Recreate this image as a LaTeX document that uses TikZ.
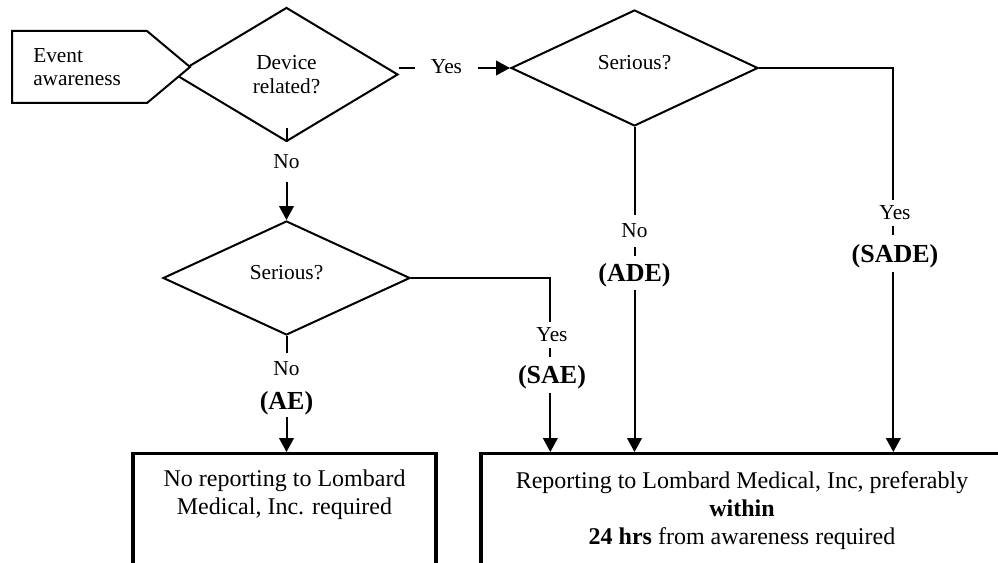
\documentclass[tikz,border=0pt]{standalone}
\usepackage{fontspec}
\setmainfont{Liberation Serif}
\usetikzlibrary{shapes.geometric,arrows.meta,calc}
\newcommand\labfont{\fontsize{16pt}{17.5pt}\selectfont}
\newcommand\boldlabfont{\fontsize{19.5pt}{21pt}\selectfont\bfseries}
\newcommand\boxfont{\fontsize{18pt}{20.8pt}\selectfont}
\tikzset{
  conn/.style={line width=1.5pt, -{Triangle[length=10.5pt,width=11pt]}},
  plain/.style={line width=1.5pt},
  decision/.style={diamond, draw, line width=1.5pt, fill=white, inner sep=0pt, font=\labfont, align=center},
  lab/.style={fill=white, inner sep=1pt, font=\labfont},
  blab/.style={fill=white, inner sep=1pt, font=\boldlabfont, text height=13.5pt, text depth=0.6pt},
  outbox/.style={draw, line width=2.5pt, anchor=north, fill=white},
  boxtext/.style={font=\boxfont, align=center, inner sep=0pt, anchor=north},
}
\begin{document}
\begin{tikzpicture}[x=0.75pt,y=-0.75pt]
\useasboundingbox (0,0) rectangle (998,563);
\fill[white] (0,0) rectangle (998,563);
\clip (0,0) rectangle (998,563);

% decisions
\node[decision, minimum width=167.25pt, minimum height=100.5pt] (d1) at (286.5,74.5) {Device\\related?};
\draw[plain, fill=white] (12,31) -- (147,31) -- (190,67) -- (147,103) -- (12,103) -- cycle;
\node[font=\labfont, align=left, anchor=west, inner sep=0pt] (ev) at (33,67) {Event\\awareness};

\node[decision, minimum width=185.25pt, minimum height=87pt, text depth=7.8pt] (d2) at (634.5,68) {Serious?};
\node[decision, minimum width=185.25pt, minimum height=85.5pt, text depth=7.8pt] (d3) at (286.5,278) {Serious?};

% result boxes
\node[outbox, minimum width=227.25pt, minimum height=105pt] (lbox) at (284.5,452) {};
\node[outbox, minimum width=391.5pt, minimum height=105pt] (rbox) at (742,452) {};
\node[boxtext] (ltxt) at ($(lbox.north)+(0,17.5)$) {No reporting to Lombard\\Medical, Inc. required};
\node[boxtext] (rtxt) at ($(rbox.north)+(0,19.6)$) {Reporting to Lombard Medical, Inc, preferably\\\textbf{within}\\\textbf{24 hrs} from awareness required};

\coordinate (rb1) at ($(rbox.north west)+(71,0)$);
\coordinate (rb3) at ($(rbox.north west)+(414,0)$);

% connectors
\draw[conn] ($(d1.south)+(0,-14)$) -- (d3.north);
\draw[conn] (d1.east |- d2.west) -- (d2.west);
\draw[conn] (d3.south) -- (d3.south |- lbox.north);
\draw[conn] (d3.east) -| (rb1);
\draw[conn] (d2.south) -- (d2.south |- rbox.north);
\draw[conn] (d2.east) -| (rb3);

% labels
\node[lab, minimum height=30pt] (n1) at (286.5,162) {No};
\node[lab, minimum width=47pt, minimum height=18pt] (y1) at (446.5,67) {Yes};
\node[lab, minimum height=24pt] (n3) at (286.5,369) {No};
\node[blab, minimum height=24pt] (ae) at (286.5,401) {(AE)};
\node[lab, minimum height=19.5pt] (y3) at (552,335) {Yes};
\node[blab, minimum height=27pt] (sae) at (552,375) {(SAE)};
\node[lab, minimum height=24pt] (n2) at (634.5,231) {No};
\node[blab, minimum height=25pt] (ade) at (634.5,273) {(ADE)};
\node[lab, minimum height=20pt] (y2) at (895,213) {Yes};
\node[blab, minimum height=28pt] (sade) at (895,253.5) {(SADE)};
\end{tikzpicture}
\end{document}
